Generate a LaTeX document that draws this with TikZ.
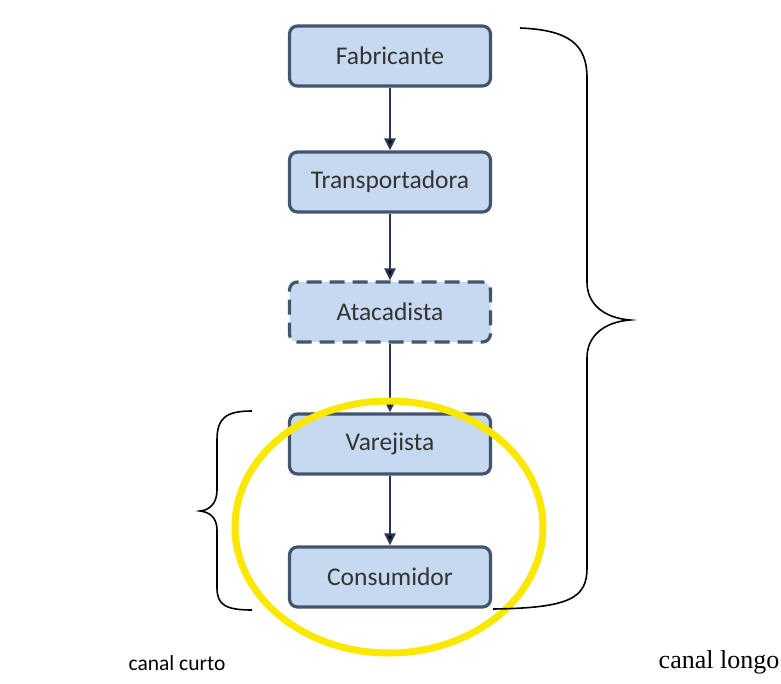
\documentclass[tikz,border=0pt]{standalone}
\usepackage{fontspec}
\setmainfont{Carlito}
\newfontfamily\longofont{Liberation Serif}
\usetikzlibrary{arrows.meta}
\definecolor{boxfill}{RGB}{198,217,240}
\definecolor{boxline}{RGB}{66,84,110}
\definecolor{arrowline}{RGB}{40,55,80}
\definecolor{ringyellow}{RGB}{250,232,0}
\tikzset{
  stage/.style={draw=boxline,fill=boxfill,line width=3.2pt,rounded corners=8pt,
    minimum width=201pt,minimum height=60pt,inner sep=0pt,
    font=\fontsize{25.5}{30}\selectfont,text=black!80},
  flow/.style={draw=arrowline,line width=2.2pt,-{Triangle[length=12pt,width=11pt]}},
  bracket/.style={draw=black,line width=1.6pt}
}
\begin{document}
\begin{tikzpicture}[x=1pt,y=1pt]
  \useasboundingbox (0,0) rectangle (781,-684);
  \node[stage] (fab) at (390,-56) {Fabricante};
  \node[stage] (trans) at (390,-182) {Transportadora};
  \node[stage,dash pattern=on 15pt off 8pt] (atac) at (390,-312) {Atacadista};
  \node[stage] (varej) at (390,-444) {Varejista};
  \node[stage] (cons) at (390,-577) {Consumidor};
  \path[flow]
    (fab) edge (trans)
    (trans) edge (atac)
    (atac) edge (varej)
    (varej) edge (cons);
  % ring round the short channel
  \draw[ringyellow,line width=7pt] (389,-527) ellipse (154 and 126);
  % braces
  \draw[bracket] (252,-411) .. controls (226,-411) and (217,-418) .. (217,-440) -- (217,-490)
    .. controls (217,-503) and (210,-510) .. (200,-511)
    .. controls (210,-512) and (217,-518) .. (217,-530) -- (217,-588)
    .. controls (217,-605) and (226,-610) .. (252,-610);
  \draw[bracket] (520,-28) .. controls (570,-30) and (587,-45) .. (587,-78) -- (587,-282)
    .. controls (587,-305) and (605,-318) .. (630,-320)
    .. controls (605,-322) and (587,-335) .. (587,-358) -- (587,-568)
    .. controls (587,-598) and (570,-608) .. (493,-609);
  \node[font=\fontsize{21.5}{26}\selectfont] (curto) at (177,-663) {canal curto};
  \node[font=\longofont\fontsize{26}{30}\selectfont] (longo) at (719,-662) {canal longo};
\end{tikzpicture}
\end{document}
